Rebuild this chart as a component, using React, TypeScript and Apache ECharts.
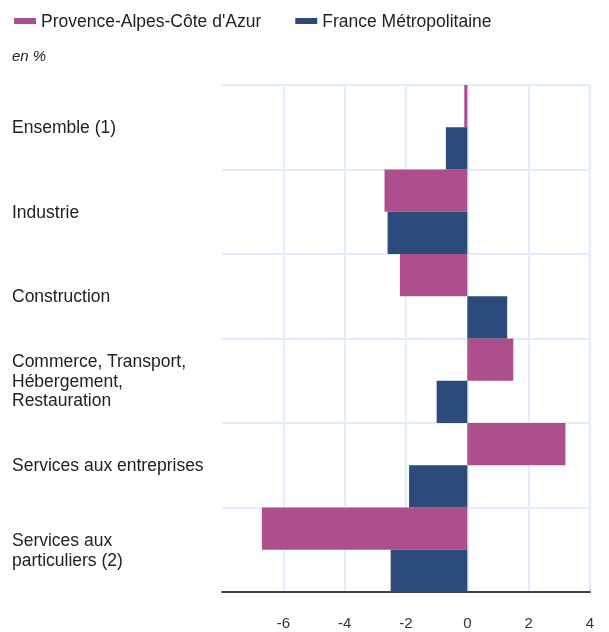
import React, { useEffect, useRef } from "react";
import * as echarts from "echarts";

const categories = [
  "Ensemble (1)",
  "Industrie",
  "Construction",
  "Commerce, Transport,\nHébergement,\nRestauration",
  "Services aux entreprises",
  "Services aux\nparticuliers (2)",
];
const pacaValues = [-0.1, -2.7, -2.2, 1.5, 3.2, -6.7];
const franceValues = [-0.7, -2.6, 1.3, -1.0, -1.9, -2.5];
const seriesNames = ["Provence-Alpes-Côte d'Azur", "France Métropolitaine"];
const unitLabel = "en %";

export default function App() {
  const ref = useRef<HTMLDivElement>(null);
  useEffect(() => {
    if (!ref.current) return;
    const chart = echarts.init(ref.current, null, { renderer: "svg" });
    const font = "'Liberation Sans', Arial, sans-serif";
    chart.setOption({
      animation: false,
      textStyle: { fontFamily: font },
      legend: {
        left: 9,
        top: 7,
        itemWidth: 22,
        itemHeight: 6,
        itemGap: 34,
        icon: "rect",
        textStyle: { fontSize: 17.5, color: "#222", fontFamily: font },
        data: seriesNames,
      },
      graphic: [
        {
          type: "text",
          left: 12,
          top: 48,
          style: { text: unitLabel, font: `italic 15px ${font}`, fill: "#222" },
        },
      ],
      grid: { left: 222, right: 19, top: 85, bottom: 40, containLabel: false },
      xAxis: {
        type: "value",
        min: -8,
        max: 4,
        interval: 2,
        axisLine: { show: true, onZero: false, lineStyle: { color: "#444", width: 2 } },
        axisTick: { show: false },
        axisLabel: {
          showMinLabel: false,
          fontSize: 15,
          color: "#333",
          margin: 23,
          fontFamily: font,
        },
        splitLine: { show: true, showMinLine: false, lineStyle: { color: "#E2EDFB", width: 2 } },
      },
      yAxis: {
        type: "category",
        data: categories,
        inverse: true,
        axisLine: { show: false },
        axisTick: { show: false },
        axisLabel: {
          align: "left",
          margin: 210,
          fontSize: 17.5,
          lineHeight: 19.5,
          color: "#222",
          fontFamily: font,
        },
        splitLine: { show: true, lineStyle: { color: "#E2EDFB", width: 2 } },
      },
      series: [
        {
          name: seriesNames[0],
          type: "bar",
          data: pacaValues,
          barGap: "0%",
          barCategoryGap: "0%",
          itemStyle: { color: "#AD4F8C" },
        },
        {
          name: seriesNames[1],
          type: "bar",
          data: franceValues,
          barGap: "0%",
          barCategoryGap: "0%",
          itemStyle: { color: "#2C4B7A" },
        },
      ],
    });
    return () => chart.dispose();
  }, []);
  return (
    <div
      ref={ref}
      style={{ position: "fixed", left: 0, top: 0, width: 609, height: 632 }}
    />
  );
}
